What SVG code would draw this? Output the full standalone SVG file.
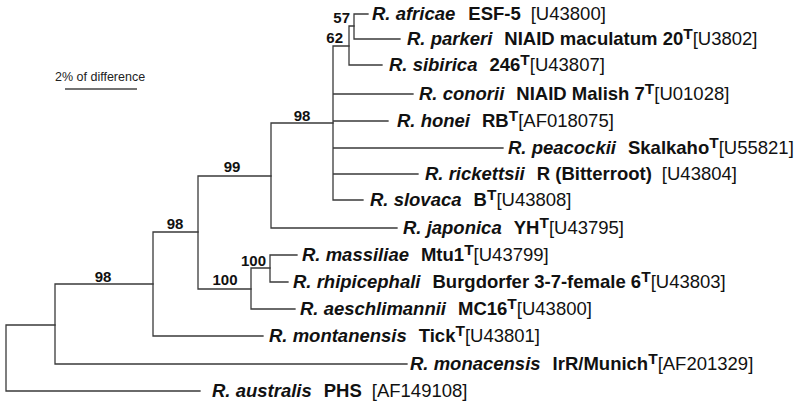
<svg xmlns="http://www.w3.org/2000/svg" width="800" height="407" viewBox="0 0 800 407">
<style>
.br{fill:none;stroke:#3a3a3a;stroke-width:1.3;stroke-linecap:square}
.lf{font-family:"Liberation Sans",Arial,sans-serif;font-size:18.5px;fill:#111}
.sp{font-weight:bold;font-style:italic}
.st{font-weight:bold}
.sup{font-weight:bold;font-size:15.5px}
.bs{font-family:"Liberation Sans",Arial,sans-serif;font-size:15px;font-weight:bold;fill:#111}
.sc{font-family:"Liberation Sans",Arial,sans-serif;font-size:12.5px;fill:#222}
</style>
<rect width="800" height="407" fill="#fff"/>
<g id="scale">
<text class="sc" x="55" y="81">2% of difference</text>
<line x1="65" y1="89" x2="137" y2="89" stroke="#444" stroke-width="1.5"/>
</g>
<g id="connectors">
<path class="br" d="M6 325V391H200M6 325H55"/>
<path class="br" d="M55 284V364H407M55 284H153"/>
<path class="br" d="M153 232V336H263M153 232H198"/>
<path class="br" d="M198 176V289H251M198 176H271"/>
<path class="br" d="M251 268V309H295M251 268H270"/>
<path class="br" d="M270 255V282H288M270 255H297"/>
<path class="br" d="M271 123V228H397M271 123H333"/>
<path class="br" d="M333 46V200H363M333 94H413M333 121H388M333 148H503M333 174H418M333 46H349"/>
<path class="br" d="M349 26V65H382M349 26H354"/>
<path class="br" d="M354 14V39H400M354 14H368"/>
</g>
<g id="bootstrap">
<text class="bs" x="350" y="23" text-anchor="end">57</text>
<text class="bs" x="343" y="43" text-anchor="end">62</text>
<text class="bs" x="302" y="121" text-anchor="middle">98</text>
<text class="bs" x="232" y="172" text-anchor="middle">99</text>
<text class="bs" x="175" y="229" text-anchor="middle">98</text>
<text class="bs" x="266" y="266" text-anchor="end">100</text>
<text class="bs" x="225" y="285" text-anchor="middle">100</text>
<text class="bs" x="103" y="282" text-anchor="middle">98</text>
</g>
<g id="leaf-africae"><text class="lf" x="372" y="20"><tspan class="sp">R. africae</tspan><tspan class="st" dx="13">ESF-5</tspan><tspan dx="10">[U43800]</tspan></text></g>
<g id="leaf-parkeri"><text class="lf" x="407" y="45"><tspan class="sp">R. parkeri</tspan><tspan class="st" dx="12">NIAID maculatum 20</tspan><tspan class="sup" dy="-6">T</tspan><tspan dy="6">[U3802]</tspan></text></g>
<g id="leaf-sibirica"><text class="lf" x="389" y="71"><tspan class="sp">R. sibirica</tspan><tspan class="st" dx="12">246</tspan><tspan class="sup" dy="-6">T</tspan><tspan dy="6">[U43807]</tspan></text></g>
<g id="leaf-conorii"><text class="lf" x="419" y="100"><tspan class="sp">R. conorii</tspan><tspan class="st" dx="12">NIAID Malish 7</tspan><tspan class="sup" dy="-6">T</tspan><tspan dy="6">[U01028]</tspan></text></g>
<g id="leaf-honei"><text class="lf" x="397" y="127"><tspan class="sp">R. honei</tspan><tspan class="st" dx="12">RB</tspan><tspan class="sup" dy="-6">T</tspan><tspan dy="6">[AF018075]</tspan></text></g>
<g id="leaf-peacockii"><text class="lf" x="508" y="154"><tspan class="sp">R. peacockii</tspan><tspan class="st" dx="12">Skalkaho</tspan><tspan class="sup" dy="-6">T</tspan><tspan dy="6">[U55821]</tspan></text></g>
<g id="leaf-rickettsii"><text class="lf" x="425" y="180"><tspan class="sp">R. rickettsii</tspan><tspan class="st" dx="12">R (Bitterroot)</tspan><tspan dx="10">[U43804]</tspan></text></g>
<g id="leaf-slovaca"><text class="lf" x="370" y="206"><tspan class="sp">R. slovaca</tspan><tspan class="st" dx="12">B</tspan><tspan class="sup" dy="-6">T</tspan><tspan dy="6">[U43808]</tspan></text></g>
<g id="leaf-japonica"><text class="lf" x="403" y="234"><tspan class="sp">R. japonica</tspan><tspan class="st" dx="12">YH</tspan><tspan class="sup" dy="-6">T</tspan><tspan dy="6">[U43795]</tspan></text></g>
<g id="leaf-massiliae"><text class="lf" x="302" y="261"><tspan class="sp">R. massiliae</tspan><tspan class="st" dx="12">Mtu1</tspan><tspan class="sup" dy="-6">T</tspan><tspan dy="6">[U43799]</tspan></text></g>
<g id="leaf-rhipicephali"><text class="lf" x="293" y="288"><tspan class="sp">R. rhipicephali</tspan><tspan class="st" dx="12">Burgdorfer 3-7-female 6</tspan><tspan class="sup" dy="-6">T</tspan><tspan dy="6">[U43803]</tspan></text></g>
<g id="leaf-aeschlimannii"><text class="lf" x="300" y="315"><tspan class="sp">R. aeschlimannii</tspan><tspan class="st" dx="12">MC16</tspan><tspan class="sup" dy="-6">T</tspan><tspan dy="6">[U43800]</tspan></text></g>
<g id="leaf-montanensis"><text class="lf" x="269" y="342"><tspan class="sp">R. montanensis</tspan><tspan class="st" dx="12">Tick</tspan><tspan class="sup" dy="-6">T</tspan><tspan dy="6">[U43801]</tspan></text></g>
<g id="leaf-monacensis"><text class="lf" x="410" y="370"><tspan class="sp">R. monacensis</tspan><tspan class="st" dx="12">IrR/Munich</tspan><tspan class="sup" dy="-6">T</tspan><tspan dy="6">[AF201329]</tspan></text></g>
<g id="leaf-australis"><text class="lf" x="212" y="397"><tspan class="sp">R. australis</tspan><tspan class="st" dx="12">PHS</tspan><tspan dx="10">[AF149108]</tspan></text></g>
</svg>
